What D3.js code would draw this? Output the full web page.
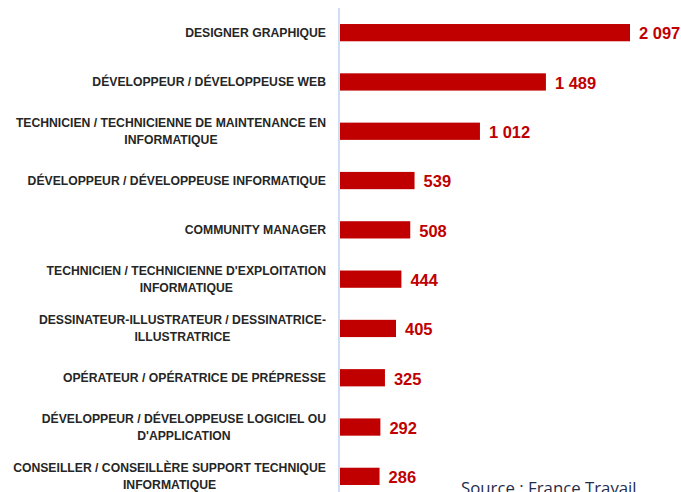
<!DOCTYPE html>
<html>
<head>
<meta charset="utf-8">
<script src="https://cdn.jsdelivr.net/npm/d3@7"></script>
<style>
  body { margin: 0; background: #fff; }
  svg { display: block; }
</style>
</head>
<body>
<div id="chart"></div>
<script>
// data
const categories = [
  ['DESIGNER GRAPHIQUE'],
  ['DÉVELOPPEUR / DÉVELOPPEUSE WEB'],
  ['TECHNICIEN / TECHNICIENNE DE MAINTENANCE EN', 'INFORMATIQUE'],
  ['DÉVELOPPEUR / DÉVELOPPEUSE INFORMATIQUE'],
  ['COMMUNITY MANAGER'],
  ["TECHNICIEN / TECHNICIENNE D'EXPLOITATION", 'INFORMATIQUE'],
  ['DESSINATEUR-ILLUSTRATEUR / DESSINATRICE-', 'ILLUSTRATRICE'],
  ['OPÉRATEUR / OPÉRATRICE DE PRÉPRESSE'],
  ['DÉVELOPPEUR / DÉVELOPPEUSE LOGICIEL OU', "D'APPLICATION"],
  ['CONSEILLER / CONSEILLÈRE SUPPORT TECHNIQUE', 'INFORMATIQUE'],
];
const values = [2097, 1489, 1012, 539, 508, 444, 405, 325, 292, 286];
const sourceText = 'Source : France Travail';

const WIDTH = 681;
const HEIGHT = 492;
const axisX = 340;
const labelRight = 326;
const red = '#c00000';

const svg = d3.select('#chart')
  .append('svg')
  .attr('width', WIDTH)
  .attr('height', HEIGHT);

const ids = categories.map((d, i) => String(i));

const scaleX = d3.scaleLinear()
  .domain([0, 2097])
  .range([axisX, 630]);

const scaleY = d3.scaleBand()
  .domain(ids)
  .range([8, 501])
  .paddingInner(0.65)
  .paddingOuter(0.325);

// bars
svg.selectAll('rect.bar')
  .data(values)
  .join('rect')
  .attr('class', 'bar')
  .attr('x', scaleX(0))
  .attr('y', (d, i) => scaleY(ids[i]))
  .attr('width', (d) => scaleX(d) - scaleX(0))
  .attr('height', scaleY.bandwidth())
  .attr('fill', red);

// axis line
svg.append('line')
  .attr('x1', axisX - 1)
  .attr('x2', axisX - 1)
  .attr('y1', 8)
  .attr('y2', HEIGHT)
  .attr('stroke', '#cfdff3')
  .attr('stroke-width', 2);

// category labels (block right-aligned, lines centered)
const lineH = 17;
categories.forEach((lines, i) => {
  const cy = scaleY(ids[i]) + scaleY.bandwidth() / 2;
  const g = svg.append('g');
  const texts = g.selectAll('text')
    .data(lines)
    .join('text')
    .attr('y', (d, j) => cy + (j - (lines.length - 1) / 2) * lineH)
    .attr('dy', '0.35em')
    .attr('font-family', 'Liberation Sans, Arial, sans-serif')
    .attr('font-weight', 'bold')
    .attr('font-size', 12.2)
    .attr('fill', '#262626')
    .attr('text-anchor', 'middle')
    .text((d) => d);
  const maxW = d3.max(texts.nodes(), (n) => n.getComputedTextLength());
  texts.attr('x', labelRight - maxW / 2);
});

// value labels
const fmt = (v) => d3.format(',')(v).replace(/,/g, ' ');
svg.selectAll('text.val')
  .data(values)
  .join('text')
  .attr('class', 'val')
  .attr('x', (d) => scaleX(d) + 9)
  .attr('y', (d, i) => scaleY(ids[i]) + scaleY.bandwidth() / 2 + 1)
  .attr('dy', '0.35em')
  .attr('font-family', 'Liberation Sans, Arial, sans-serif')
  .attr('font-weight', 'bold')
  .attr('font-size', 16.5)
  .attr('fill', red)
  .text(fmt);

// source
svg.append('text')
  .attr('x', 461)
  .attr('y', 494)
  .attr('font-family', 'Open Sans, sans-serif')
  .attr('font-size', 16.8)
  .attr('fill', '#1f2d4a')
  .text(sourceText);
</script>
</body>
</html>
